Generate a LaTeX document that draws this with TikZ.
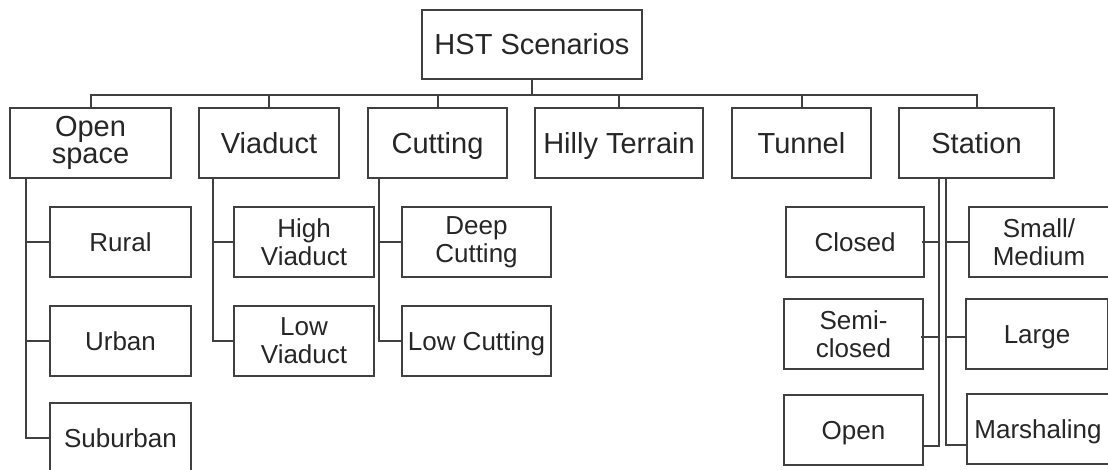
\documentclass[tikz,border=0pt]{standalone}
\usepackage{fontspec}
\setmainfont{Liberation Sans}
\definecolor{linec}{HTML}{404040}
\definecolor{textc}{HTML}{262626}
\tikzset{
  box/.style={draw=linec, line width=2pt, rectangle, inner sep=0pt, align=center, text=textc},
  topbox/.style={box, font=\fontsize{29}{31}\selectfont, text height=21pt, text depth=0pt},
  catbox/.style={box, minimum height=70pt, font=\fontsize{29}{27}\selectfont},
  subbox/.style={box, minimum height=70pt, font=\fontsize{26}{28}\selectfont},
  onecat/.style={text height=20.8pt, text depth=0pt},
  onesub/.style={text height=18.6pt, text depth=0pt},
  conn/.style={draw=linec, line width=2pt},
}
\begin{document}
\begin{tikzpicture}[x=1pt, y=-1pt]
\useasboundingbox (0,0) rectangle (1108,470);
\clip (0,0) rectangle (1108,470);
\fill[white] (0,0) rectangle (1108,470);
% root
\node[topbox, minimum width=220pt, minimum height=69pt] (hst) at (532,44.5) {HST Scenarios};
% level 1
\node[catbox, minimum width=161pt] (open) at (90.5,143) {Open\\space};
\node[catbox, onecat, minimum width=140pt] (viaduct) at (269,143) {Viaduct};
\node[catbox, onecat, minimum width=139pt] (cutting) at (437.5,143) {Cutting};
\node[catbox, onecat, minimum width=168pt] (hilly) at (619,143) {Hilly Terrain};
\node[catbox, onecat, minimum width=139pt] (tunnel) at (801.5,143) {Tunnel};
\node[catbox, onecat, minimum width=155pt] (station) at (976.5,143) {Station};
% children
\node[subbox, onesub, minimum width=141pt] (rural) at (120.5,242) {Rural};
\node[subbox, onesub, minimum width=141pt] (urban) at (120.5,341) {Urban};
\node[subbox, onesub, minimum width=141pt] (suburban) at (120.5,438) {Suburban};
\node[subbox, minimum width=140pt] (highv) at (304,242) {High\\Viaduct};
\node[subbox, minimum width=140pt] (lowv) at (304,341) {Low\\Viaduct};
\node[subbox, minimum width=149pt] (deepc) at (476.5,242) {Deep\\Cutting};
\node[subbox, onesub, minimum width=149pt] (lowc) at (476.5,341) {Low Cutting};
\node[subbox, onesub, minimum width=138pt] (closed) at (855,242) {Closed};
\node[subbox, minimum width=139pt] (semi) at (853.5,334) {Semi-\\closed};
\node[subbox, onesub, minimum width=139pt] (openst) at (853.5,430) {Open};
\node[subbox, minimum width=140pt] (small) at (1039,242) {Small/\\Medium};
\node[subbox, onesub, minimum width=142pt] (large) at (1037,334) {Large};
\node[subbox, onesub, minimum width=142pt] (marsh) at (1038,429) {Marshaling};
% bus
\coordinate (bus) at (532,95);
\draw[conn] (hst.south) -- (bus);
\draw[conn] (open.north) |- (bus) -| (station.north);
\draw[conn] (viaduct.north) -- (viaduct.north |- bus);
\draw[conn] (cutting.north) -- (cutting.north |- bus);
\draw[conn] (hilly.north) -- (hilly.north |- bus);
\draw[conn] (tunnel.north) -- (tunnel.north |- bus);
% open space branch
\draw[conn] ([xshift=17pt]open.south west) |- (suburban.west);
\draw[conn] ([xshift=17pt]open.south west) |- (rural.west);
\draw[conn] ([xshift=17pt]open.south west) |- (urban.west);
% viaduct branch
\draw[conn] ([xshift=15pt]viaduct.south west) |- (lowv.west);
\draw[conn] ([xshift=15pt]viaduct.south west) |- (highv.west);
% cutting branch
\draw[conn] ([xshift=12pt]cutting.south west) |- (lowc.west);
\draw[conn] ([xshift=12pt]cutting.south west) |- (deepc.west);
% station branch
\draw[conn] ([xshift=41pt,yshift=2pt]station.south west) |- ([yshift=-16pt]openst.east);
\draw[conn] ([xshift=41pt]station.south west) |- ([xshift=-3pt]closed.east);
\draw[conn] ([xshift=41pt]station.south west) |- ([xshift=-3pt,yshift=-3pt]semi.east);
\draw[conn] ([xshift=48pt,yshift=2pt]station.south west) |- ([yshift=-16pt]marsh.west);
\draw[conn] ([xshift=48pt]station.south west) |- (small.west);
\draw[conn] ([xshift=48pt]station.south west) |- ([yshift=-3pt]large.west);
\end{tikzpicture}
\end{document}
